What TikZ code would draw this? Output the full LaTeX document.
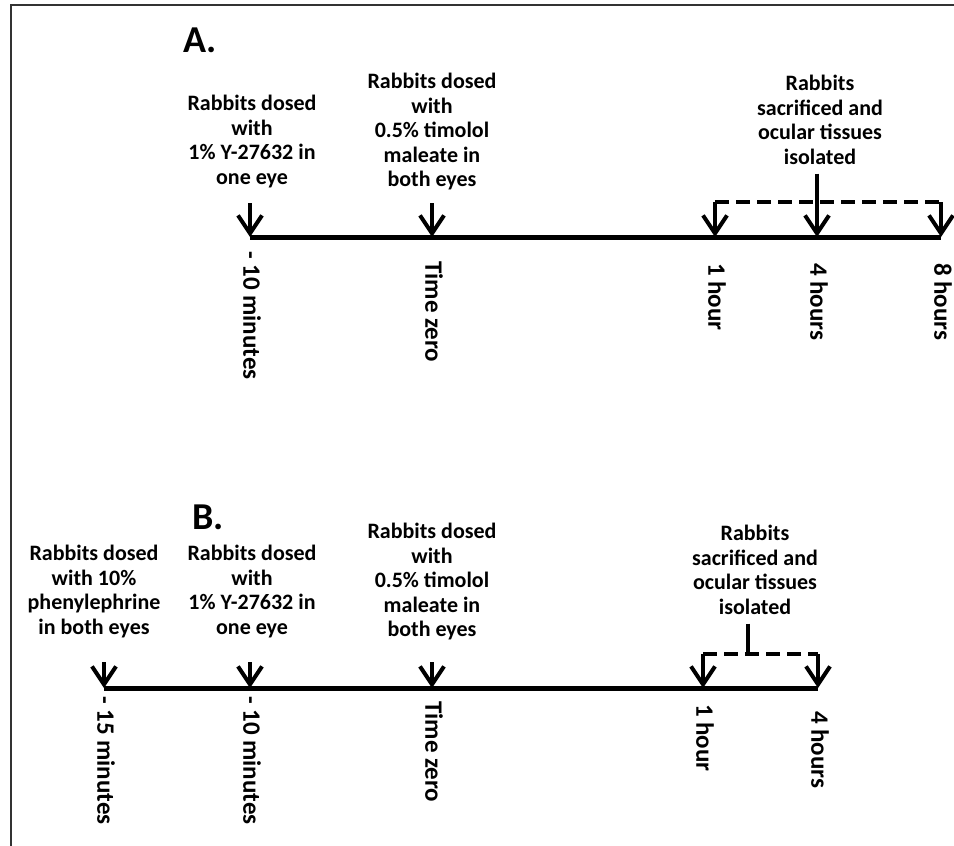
\documentclass[tikz,border=0pt]{standalone}
\usepackage{fontspec}
\setmainfont{Carlito}
\usetikzlibrary{arrows.meta,positioning}

\begin{document}
\begin{tikzpicture}[x=1pt,y=-1pt,
  evt/.style={align=center,inner sep=0pt,anchor=north,font=\fontsize{22}{24.5}\selectfont\bfseries},
  tlabel/.style={rotate=-90,anchor=west,inner sep=0pt,font=\fontsize{25}{27}\selectfont\bfseries},
  panel/.style={anchor=north west,inner sep=0pt,font=\fontsize{38}{40}\selectfont\bfseries},
  timeline/.style={line width=5pt},
  tick/.style={line width=4pt,-{Straight Barb[length=18pt,width=24pt]}},
  dashline/.style={line width=4pt,dash pattern=on 14pt off 7pt}]
  \useasboundingbox (0,0) rectangle (954,846);
  % frame
  \draw[line width=1.5pt,black!80] (11,846) -- (11,5) -- (954,5);

  % ---- A ----
  \node[panel] (lblA) at (183,28) {A.};
  \coordinate (a1) at (250,237); \coordinate (a2) at (432,237);
  \coordinate (a3) at (715,237); \coordinate (a4) at (817,237);
  \coordinate (a5) at (941,237);
  \coordinate (a1t) at (250,203); \coordinate (a2t) at (432,203);
  \coordinate (a3t) at (715,202); \coordinate (a5t) at (941,202);
  \draw[timeline] (a1) -- (a5);
  \node[evt] (aev1) at (252,95) {Rabbits dosed\\with\\1\% Y-27632 in\\one eye};
  \node[evt] (aev2) at (432,73) {Rabbits dosed\\with\\0.5\% timolol\\maleate in\\both eyes};
  \node[evt] (aev3) at (820,75) {Rabbits\\sacrificed and\\ocular tissues\\isolated};
  \draw[tick] (a1t) -- (a1);
  \draw[tick] (a2t) -- (a2);
  \draw[dashline] (a3t) -- (a5t);
  \draw[tick] (a3t) -- (a3);
  \draw[tick] (a5t) -- (a5);
  \draw[tick,shorten <=9pt] (aev3.south -| a4) -- (a4);
  \node[tlabel] (al1) at (252,251) {- 10 minutes};
  \node[tlabel] (al2) at (434,261) {Time zero};
  \node[tlabel] (al3) at (717,263) {1 hour};
  \node[tlabel] (al4) at (819,263) {4 hours};
  \node[tlabel] (al5) at (943,263) {8 hours};

  % ---- B ----
  \node[panel] (lblB) at (192,505) {B.};
  \coordinate (b1) at (104,688); \coordinate (b2) at (250,688);
  \coordinate (b3) at (432,688); \coordinate (b4) at (703,688);
  \coordinate (b5) at (818,688);
  \coordinate (b1t) at (104,662); \coordinate (b2t) at (250,662);
  \coordinate (b3t) at (432,662); \coordinate (b4t) at (703,654);
  \coordinate (b5t) at (818,654); \coordinate (bst) at (748,654);
  \draw[timeline] (b1) -- (b5);
  \node[evt] (bev1) at (94,545) {Rabbits dosed\\with 10\%\\phenylephrine\\in both eyes};
  \node[evt] (bev2) at (252,545) {Rabbits dosed\\with\\1\% Y-27632 in\\one eye};
  \node[evt] (bev3) at (432,523) {Rabbits dosed\\with\\0.5\% timolol\\maleate in\\both eyes};
  \node[evt] (bev4) at (755,525) {Rabbits\\sacrificed and\\ocular tissues\\isolated};
  \draw[tick] (b1t) -- (b1);
  \draw[tick] (b2t) -- (b2);
  \draw[tick] (b3t) -- (b3);
  \draw[line width=4pt,shorten <=9pt] (bev4.south -| bst) -- (bst);
  \draw[dashline] (b4t) -- (b5t);
  \draw[tick] (b4t) -- (b4);
  \draw[tick] (b5t) -- (b5);
  \node[tlabel] (bl1) at (106,696) {- 15 minutes};
  \node[tlabel] (bl2) at (252,696) {- 10 minutes};
  \node[tlabel] (bl3) at (434,701) {Time zero};
  \node[tlabel] (bl4) at (705,704) {1 hour};
  \node[tlabel] (bl5) at (820,711) {4 hours};
\end{tikzpicture}
\end{document}
